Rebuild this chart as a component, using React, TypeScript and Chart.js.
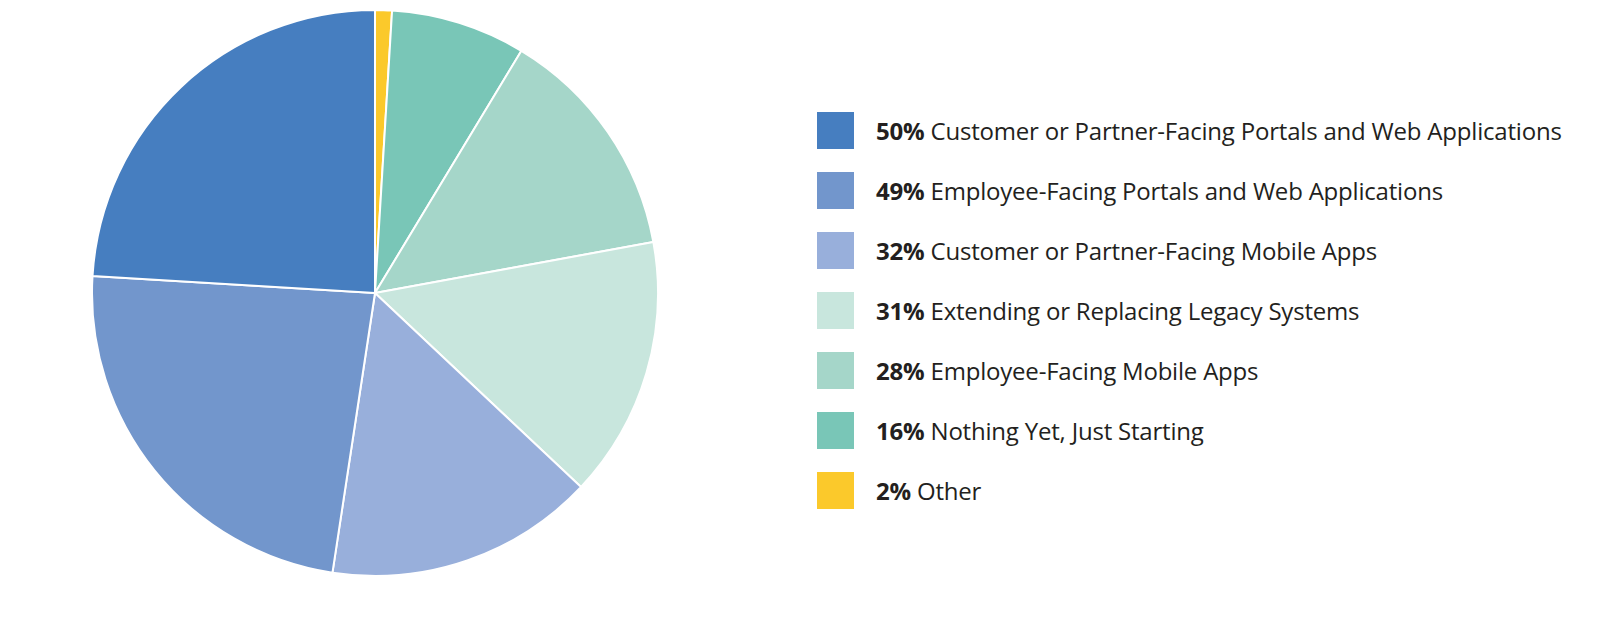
import React, { useRef, useEffect } from 'react';
import { Chart, registerables } from 'chart.js';

Chart.register(...registerables);

// legend order (top to bottom)
const categories = [
  'Customer or Partner-Facing Portals and Web Applications',
  'Employee-Facing Portals and Web Applications',
  'Customer or Partner-Facing Mobile Apps',
  'Extending or Replacing Legacy Systems',
  'Employee-Facing Mobile Apps',
  'Nothing Yet, Just Starting',
  'Other',
];
const percents = [50, 49, 32, 31, 28, 16, 2];
const colors = ['#467ec0', '#7296cc', '#98afdb', '#c8e6dd', '#a5d6c9', '#79c6b7', '#fbc92b'];

const PieChart: React.FC = () => {
  const chartRef = useRef<HTMLCanvasElement | null>(null);
  const chartInstance = useRef<Chart | null>(null);

  useEffect(() => {
    if (!chartRef.current) return;
    if (chartInstance.current) {
      chartInstance.current.destroy();
    }
    const ctx = chartRef.current.getContext('2d');
    if (!ctx) return;

    // slices run clockwise from 12 o'clock in reverse legend order
    chartInstance.current = new Chart(ctx, {
      type: 'pie',
      data: {
        labels: [...categories].reverse(),
        datasets: [
          {
            data: [...percents].reverse(),
            backgroundColor: [...colors].reverse(),
            borderColor: '#ffffff',
            borderWidth: 2,
          },
        ],
      },
      options: {
        animation: false,
        responsive: true,
        maintainAspectRatio: false,
        layout: { padding: 0 },
        plugins: {
          legend: { display: false },
          tooltip: { enabled: false },
        },
      },
    });

    return () => {
      if (chartInstance.current) {
        chartInstance.current.destroy();
        chartInstance.current = null;
      }
    };
  }, []);

  return <canvas ref={chartRef} />;
};

const App: React.FC = () => {
  return (
    <div
      style={{
        position: 'absolute',
        left: 0,
        top: 0,
        width: 1600,
        height: 620,
        background: '#ffffff',
        fontFamily: '"Open Sans", sans-serif',
      }}
    >
      <div style={{ position: 'absolute', left: 91, top: 9, width: 568, height: 568 }}>
        <PieChart />
      </div>
      <div style={{ position: 'absolute', left: 817, top: 112 }}>
        {categories.map((c, i) => (
          <div
            key={c}
            style={{ display: 'flex', alignItems: 'center', height: 37, marginBottom: 23 }}
          >
            <div style={{ width: 37, height: 37, background: colors[i], flexShrink: 0 }} />
            <div
              style={{
                marginLeft: 22,
                fontSize: 24,
                color: '#231f20',
                whiteSpace: 'nowrap',
                letterSpacing: -0.2,
              }}
            >
              <b style={{ fontWeight: 700 }}>{percents[i]}%</b> {c}
            </div>
          </div>
        ))}
      </div>
    </div>
  );
};

export default App;
